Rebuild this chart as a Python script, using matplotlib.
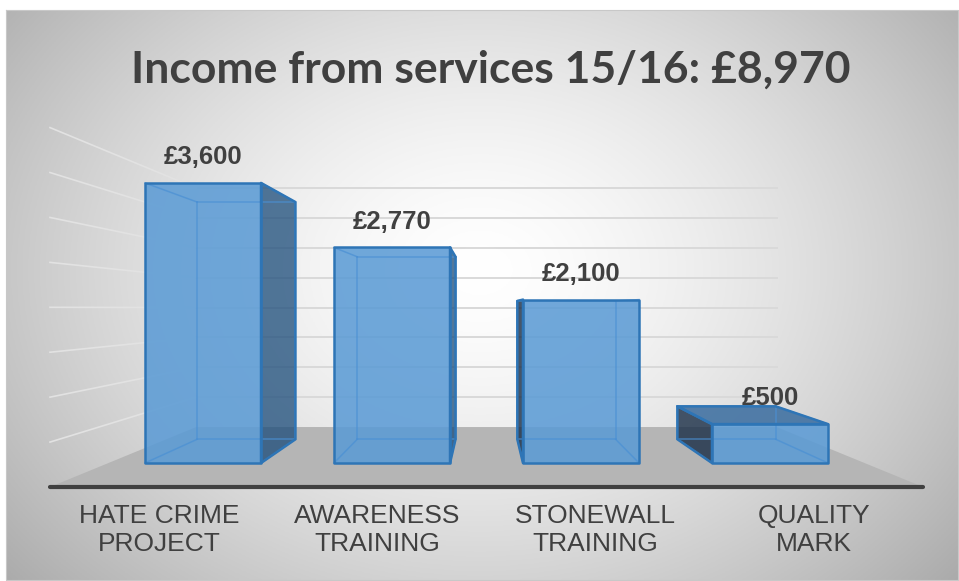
"""Income from services 15/16 - Excel style 3D column chart, faked with a simple perspective."""

import matplotlib

matplotlib.use("Agg")
import matplotlib.pyplot as plt
import numpy as np

TITLE = "Income from services 15/16: £8,970"
CATEGORIES = ["HATE CRIME\nPROJECT", "AWARENESS\nTRAINING", "STONEWALL\nTRAINING", "QUALITY\nMARK"]
VALUES = [3600, 2770, 2100, 500]
GRID_MAX = 4000
GRID_STEP = 500

W, H = 959, 581
TEXT = "#404040"

# perspective set-up (pixel space): vanishing point and front plane mapping
VX, VY = 486, 308
X0, STEP = 203, 189          # front plane x of first category, spacing
Y0, KV = 463, 0.0778         # front plane baseline, px per pound
S_FRONT, S_BACK = 1.0, 0.847  # bar front / back faces
S_WALL, S_FLOOR = 0.768, 1.155
HALF = 0.307                 # half bar width in category units


def proj(c, v, s):
    fx = X0 + c * STEP
    fy = Y0 - v * KV
    return VX + s * (fx - VX), VY + s * (fy - VY)


fig = plt.figure(figsize=(W / 100, H / 100), dpi=100)
ax = fig.add_axes([0, 0, 1, 1])
ax.set_xlim(0, W)
ax.set_ylim(H, 0)
ax.axis("off")

# radial gradient background of the chart area
gx, gy = np.meshgrid(np.linspace(6, 958, 400), np.linspace(10, 580, 250))
r = np.sqrt(((gx - 480) / 520) ** 2 + ((gy - 270) / 400) ** 2)
shade = (255 - 64 * np.clip(r, 0, 1.3) ** 1.5) / 255
ax.imshow(np.dstack([shade] * 3), extent=(6, 958, 580, 10), zorder=0, aspect="auto")
ax.plot([6, 958, 958, 6, 6], [10, 10, 580, 580, 10], color="#c8c8c8", lw=0.8, zorder=1)

left, right = -0.5, len(VALUES) - 0.5

# walls gridlines
for v in np.arange(GRID_STEP, GRID_MAX + 1, GRID_STEP):
    x1, y1 = proj(left, v, S_WALL)
    x2, y2 = proj(right, v, S_WALL)
    ax.plot([x1, x2], [y1, y2], color="#d9d9d9", lw=1.4, zorder=2)
    x3, y3 = proj(left, v, S_FLOOR)
    ax.plot([x3, x1], [y3, y1], color="#e2e2e2", lw=1.2, zorder=2)

# floor
floor = [proj(left, 0, S_FLOOR), proj(right, 0, S_FLOOR), proj(right, 0, S_WALL), proj(left, 0, S_WALL)]
ax.fill(*zip(*floor), color="#b5b5b5", lw=0, zorder=3)
ax.plot(*zip(floor[0], floor[1]), color="#404040", lw=3, solid_capstyle="round", zorder=3)

FACE = (91 / 255, 155 / 255, 213 / 255)
EDGE = "#2E75B6"
SIDE_R = (26 / 255, 75 / 255, 121 / 255)
SIDE_L = (25 / 255, 45 / 255, 70 / 255)
TOP = (60 / 255, 110 / 255, 160 / 255)

for i, v in enumerate(VALUES):
    fl_b, fr_b = proj(i - HALF, 0, S_FRONT), proj(i + HALF, 0, S_FRONT)
    fl_t, fr_t = proj(i - HALF, v, S_FRONT), proj(i + HALF, v, S_FRONT)
    bl_b, br_b = proj(i - HALF, 0, S_BACK), proj(i + HALF, 0, S_BACK)
    bl_t, br_t = proj(i - HALF, v, S_BACK), proj(i + HALF, v, S_BACK)

    faces = []
    if fr_b[0] < VX:
        faces.append(([fr_b, br_b, br_t, fr_t], SIDE_R, 0.75))
    if fl_b[0] > VX:
        faces.append(([fl_b, bl_b, bl_t, fl_t], SIDE_L, 0.8))
    if fl_t[1] > VY:
        faces.append(([fl_t, fr_t, br_t, bl_t], TOP, 0.87))
    faces.append(([fl_b, fr_b, fr_t, fl_t], FACE, 0.87))

    for poly, col, a in faces:
        ax.fill(*zip(*poly), color=col, alpha=a, lw=0, zorder=4 + i * 0.1)

    # all box edges, faint (seen through the glass)
    edges = [
        (bl_b, br_b), (br_b, br_t), (br_t, bl_t), (bl_t, bl_b),
        (fl_b, bl_b), (fr_b, br_b), (fl_t, bl_t), (fr_t, br_t),
    ]
    for a_, b_ in edges:
        ax.plot(*zip(a_, b_), color="#4a90d4", lw=1.1, alpha=0.7, zorder=4.05 + i * 0.1)
    for poly, col, a in faces:
        ax.fill(*zip(*poly), facecolor="none", edgecolor=EDGE, lw=1.8, zorder=4.08 + i * 0.1,
                joinstyle="round")

    cx, cy = proj(i, v, S_FRONT)
    ax.annotate(f"£{v:,}", xy=(cx, cy), xytext=(0, 10), textcoords="offset points",
                ha="center", va="bottom", fontsize=18.5, fontweight="bold",
                family="Liberation Sans", color=TEXT, zorder=10)

    lx, ly = proj(i, 0, S_FLOOR)
    ax.annotate(CATEGORIES[i], xy=(lx, ly), xytext=(0, -12), textcoords="offset points",
                ha="center", va="top", fontsize=19, family="Liberation Sans",
                color=TEXT, linespacing=1.25, zorder=10)

ax.text(491, 70, TITLE, ha="center", va="center", fontsize=32, fontweight="bold",
        family="Lato", color=TEXT, zorder=10)

fig.savefig("out.png", dpi=100)
